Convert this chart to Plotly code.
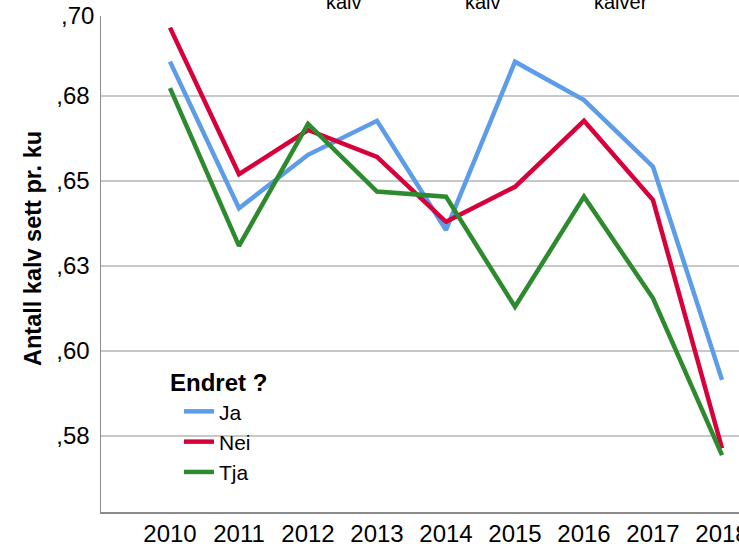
import plotly.graph_objects as go

years = [2010, 2011, 2012, 2013, 2014, 2015, 2016, 2017, 2018]
ja = [0.6851, 0.6420, 0.6577, 0.6677, 0.6356, 0.6851, 0.6738, 0.6542, 0.5915]
nei = [0.6951, 0.6520, 0.6650, 0.6571, 0.6380, 0.6483, 0.6677, 0.6444, 0.5714]
tja = [0.6773, 0.6309, 0.6668, 0.6469, 0.6454, 0.6130, 0.6454, 0.6155, 0.5694]

series_names = ["Ja", "Nei", "Tja"]
series_colors = ["#5C9CE8", "#D8003A", "#2E8A2E"]

ytick_vals = [0.575, 0.600, 0.625, 0.650, 0.675]
ytick_text = [",58", ",60", ",63", ",65", ",68"]
top_tick_val = 0.700
top_tick_text = ",70"
top_labels = ["kalv", "kalv", "kalver"]
y_title = "Antall kalv sett pr. ku"

FONT = "Arial, Liberation Sans, sans-serif"

W, H = 739, 544
ML, MB, MT, MR = 101, 32, 16, 0
PW = W - ML - MR
PH = H - MT - MB

fig = go.Figure()
for name, vals, col in zip(series_names, [ja, nei, tja], series_colors):
    fig.add_trace(go.Scatter(x=years, y=vals, mode="lines", name=name,
                             line=dict(color=col, width=4.5)))

x0 = 2009
xpx = 69.0
yref_val, yref_px, ypx = 0.675, 96.0, 85.0 / 0.025
ybot = yref_val - (H - MB - yref_px) / ypx
ytop = yref_val + (yref_px - MT) / ypx

fig.update_layout(
    width=W, height=H,
    margin=dict(l=ML, r=MR, t=MT, b=MB, pad=0, autoexpand=False),
    paper_bgcolor="white", plot_bgcolor="white",
    font=dict(family=FONT, size=24, color="black"),
    showlegend=True,
    legend=dict(
        title=dict(text="<b>Endret ?</b>", font=dict(size=24, family=FONT)),
        font=dict(size=21, family=FONT),
        x=(168 - ML) / PW, xanchor="left",
        y=(H - MB - 360) / PH, yanchor="top",
        bgcolor="rgba(0,0,0,0)",
        indentation=11,
        itemwidth=30,
        tracegroupgap=0,
    ),
    xaxis=dict(
        range=[x0, x0 + PW / xpx],
        tickmode="array", tickvals=years, ticktext=[str(y) for y in years],
        showgrid=False, zeroline=False,
        showline=True, linecolor="#8C8C8C", linewidth=1.5,
        ticks="", ticklabelstandoff=0,
        ticklabeloverflow="allow",
        tickfont=dict(size=24, family=FONT),
        automargin=False,
        fixedrange=True,
    ),
    yaxis=dict(
        range=[ybot, ytop],
        tickmode="array", tickvals=ytick_vals, ticktext=ytick_text,
        showgrid=True, gridcolor="#C8C8C8", gridwidth=1.5,
        zeroline=False,
        showline=True, linecolor="#8C8C8C", linewidth=1.5,
        ticks="outside", ticklen=5, tickcolor="rgba(0,0,0,0)",
        tickfont=dict(size=24, family=FONT),
        automargin=False,
        fixedrange=True,
    ),
)

# y-axis title (placed slightly above the plot centre, as in the reference)
fig.add_annotation(x=(33 - ML) / PW, xref="paper", xanchor="center",
                   y=(H - MB - 249) / PH, yref="paper", yanchor="middle",
                   text="<b>" + y_title + "</b>", textangle=-90, showarrow=False,
                   font=dict(size=23.5, family=FONT))

top_px = yref_px - (top_tick_val - yref_val) * ypx
fig.add_annotation(x=0, xref="paper", xanchor="right", xshift=-5,
                   y=(H - MB - top_px) / PH, yref="paper", yanchor="middle", yshift=-4,
                   text=top_tick_text, showarrow=False,
                   font=dict(size=24, family=FONT))

for txt, px in zip(top_labels, [344, 482.5, 620.8]):
    fig.add_annotation(x=(px - ML) / PW, xref="paper", xanchor="center",
                       y=1, yref="paper", yanchor="bottom", yshift=1,
                       text=txt, showarrow=False,
                       font=dict(size=20, family=FONT))

fig.write_html("out.html",
               config={"displayModeBar": False, "staticPlot": True},
               post_script="document.body.style.margin='0px';document.body.style.overflow='hidden';")
